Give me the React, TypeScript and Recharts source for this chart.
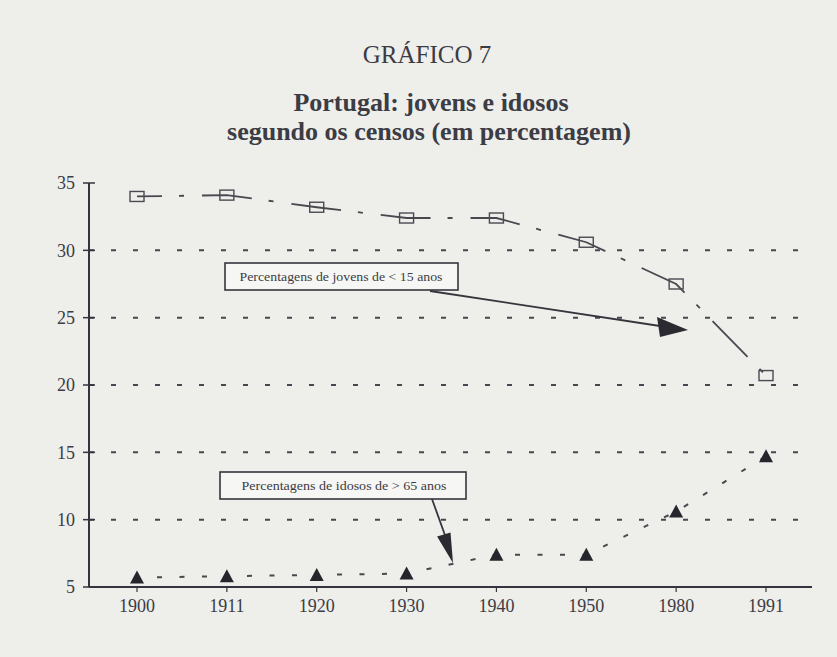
import React from 'react';
import { LineChart, Line, XAxis, YAxis, ReferenceLine } from 'recharts';

const years = ['1900', '1911', '1920', '1930', '1940', '1950', '1980', '1991'];
const youngPct = [34.0, 34.1, 33.2, 32.4, 32.4, 30.6, 27.5, 20.7];
const elderlyPct = [5.7, 5.8, 5.9, 6.0, 7.4, 7.4, 10.6, 14.7];
const yTicks = [5, 10, 15, 20, 25, 30, 35];
const gridValues = [10, 15, 20, 25, 30];

const titleTop = 'GRÁFICO 7';
const titleLine1 = 'Portugal: jovens e idosos';
const titleLine2 = 'segundo os censos (em percentagem)';
const noteYoung = 'Percentagens de jovens de < 15 anos';
const noteOld = 'Percentagens de idosos de > 65 anos';

const data = years.map((y, i) => ({ year: y, jovens: youngPct[i], idosos: elderlyPct[i] }));

const FONT = '"Liberation Serif", "DejaVu Serif", serif';
const INK = '#3c3c44';
const AXIS = '#34343e';

const SquareDot = (props: any) => {
  const { cx, cy, index } = props;
  if (cx == null || cy == null) return null;
  return (
    <rect key={`sq-${index}`} x={cx - 7} y={cy - 5} width={14} height={10} fill="none" stroke="#4a4a52" strokeWidth={1.4} />
  );
};

const TriDot = (props: any) => {
  const { cx, cy, index } = props;
  if (cx == null || cy == null) return null;
  return (
    <polygon key={`tr-${index}`} points={`${cx},${cy - 7} ${cx - 7},${cy + 6} ${cx + 7},${cy + 6}`} fill="#25252c" />
  );
};

const YTick = (props: any) => {
  const { x, y, payload } = props;
  return (
    <g>
      <line x1={x + 8} x2={x + 20} y1={y} y2={y} stroke={AXIS} strokeWidth={1.5} />
      <text x={x} y={y} dy="0.35em" textAnchor="end" fontFamily={FONT} fontSize={18} fill={INK}>
        {payload.value}
      </text>
    </g>
  );
};

export default function App() {
  return (
    <div style={{ position: 'absolute', left: 0, top: 0, width: 837, height: 657, background: '#eeeeeb', overflow: 'hidden' }}>
      <div style={{ position: 'absolute', left: 0, top: 0 }}>
        <LineChart width={837} height={657} data={data} margin={{ top: 183, right: 25, bottom: 40, left: 0 }}>
          {gridValues.map((v) => (
            <ReferenceLine key={v} y={v} stroke="#474751" strokeWidth={2} strokeDasharray="5 17" ifOverflow="visible" />
          ))}
          <XAxis
            dataKey="year"
            height={30}
            padding={{ left: 48, right: 46 }}
            tickSize={5}
            tickMargin={7}
            axisLine={{ stroke: AXIS, strokeWidth: 2 }}
            tickLine={{ stroke: AXIS, strokeWidth: 1.2 }}
            tick={{ fill: INK, fontSize: 18, fontFamily: FONT }}
            interval={0}
          />
          <YAxis
            width={89}
            domain={[5, 35]}
            ticks={yTicks}
            type="number"
            tickSize={6}
            tickMargin={8}
            axisLine={{ stroke: AXIS, strokeWidth: 2 }}
            tickLine={false}
            tick={YTick}
            interval={0}
          />
          <Line
            dataKey="jovens"
            stroke="#48484f"
            strokeWidth={1.8}
            strokeDasharray="50 17 5 18"
            strokeDashoffset={25}
            dot={SquareDot}
            activeDot={false}
            isAnimationActive={false}
          />
          <Line
            dataKey="idosos"
            stroke="#48484f"
            strokeWidth={2}
            strokeDasharray="5 17.5"
            strokeDashoffset={-20}
            dot={TriDot}
            activeDot={false}
            isAnimationActive={false}
          />
        </LineChart>
      </div>
      <svg width={837} height={657} style={{ position: 'absolute', left: 0, top: 0, pointerEvents: 'none' }}>
        <text x={427} y={63} textAnchor="middle" fontFamily={FONT} fontSize={25} fill={INK}>{titleTop}</text>
        <text x={431} y={111} textAnchor="middle" fontFamily={FONT} fontSize={26} fontWeight="bold" fill={INK}>{titleLine1}</text>
        <text x={429} y={140} textAnchor="middle" fontFamily={FONT} fontSize={26} fontWeight="bold" fill={INK}>{titleLine2}</text>

        <rect x={225} y={263} width={233} height={27} fill="#f6f6f4" stroke="#35353d" strokeWidth={1.6} />
        <text x={341} y={281} textAnchor="middle" fontFamily={FONT} fontSize={12.5} fill={INK} textLength={203} lengthAdjust="spacingAndGlyphs">{noteYoung}</text>
        <line x1={430} y1={291} x2={660} y2={326} stroke="#35353d" strokeWidth={1.8} />
        <polygon points="688,330 657,317 660,337" fill="#2a2a30" />

        <rect x={220} y={472} width={246} height={27} fill="#f6f6f4" stroke="#35353d" strokeWidth={1.6} />
        <text x={344} y={490} textAnchor="middle" fontFamily={FONT} fontSize={12.5} fill={INK} textLength={205} lengthAdjust="spacingAndGlyphs">{noteOld}</text>
        <line x1={432} y1={499} x2={446} y2={538} stroke="#35353d" strokeWidth={1.8} />
        <polygon points="453,563 450.5,532.4 437.1,536.6" fill="#2a2a30" />
      </svg>
    </div>
  );
}
